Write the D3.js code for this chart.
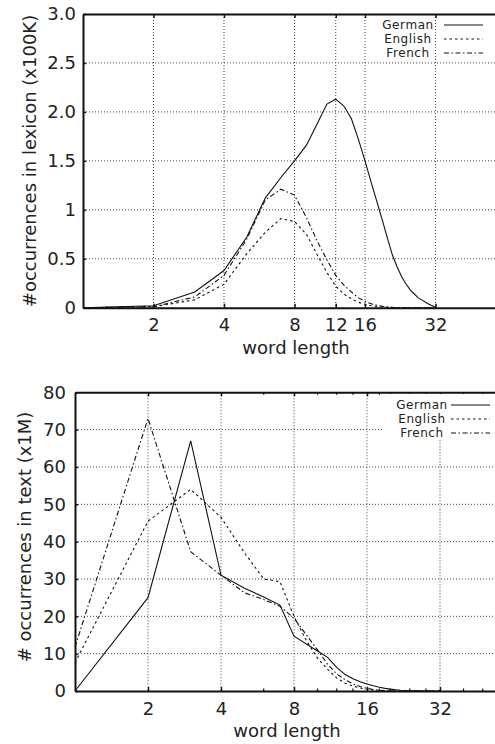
<!DOCTYPE html>
<html>
<head>
<meta charset="utf-8">
<title>Word length distributions</title>
<style>
  body { margin: 0; background: #fff; }
  svg text { font-family: "DejaVu Sans", sans-serif; fill: #222; }
  .tick text { font-size: 18px; }
  .axis .domain { stroke: #111; stroke-width: 2; }
  .axis .tick line { stroke: #111; stroke-width: 1.5; }
  .grid line { stroke: #444; stroke-width: 1; stroke-dasharray: 1,2; }
  .series { fill: none; stroke: #111; stroke-width: 1.1; }
  .legend text { font-size: 12px; letter-spacing: 0.6px; text-anchor: middle; }
</style>
</head>
<body>
<svg width="495" height="744"></svg>
<script src="https://d3js.org/d3.v7.min.js"></script>
<script>
// word lengths 1..32
var wordLength = d3.range(1, 33);

// lexicon counts (x100K)
var lexGerman  = [0, 0.02, 0.16, 0.38, 0.72, 1.12, 1.33, 1.5, 1.66, 1.88, 2.08, 2.13, 2.06, 1.93, 1.72, 1.5,
                  1.28, 1.08, 0.89, 0.7, 0.53, 0.41, 0.31, 0.24, 0.18, 0.14, 0.1, 0.08, 0.055, 0.035, 0.02, 0.005];
var lexEnglish = [0, 0.01, 0.08, 0.24, 0.55, 0.77, 0.91, 0.88, 0.75, 0.54, 0.36, 0.22, 0.14, 0.09, 0.055, 0.035,
                  0.02, 0.012, 0.007, 0.004, 0.002, 0.001, 0, 0, 0, 0, 0, 0, 0, 0, 0, 0];
var lexFrench  = [0, 0.01, 0.11, 0.33, 0.7, 1.1, 1.21, 1.15, 0.92, 0.68, 0.49, 0.33, 0.23, 0.16, 0.1, 0.065,
                  0.04, 0.025, 0.015, 0.008, 0.004, 0.002, 0.001, 0, 0, 0, 0, 0, 0, 0, 0, 0];

// text counts (x1M)
var txtGerman  = [0, 25, 67, 31, 27.5, 25.2, 23, 14.7, 12.6, 10.7, 9, 6.3, 4.4, 3.3, 2.5, 1.9,
                  1.4, 1.0, 0.7, 0.5, 0.35, 0.22, 0.14, 0.08, 0.05, 0.03, 0.015, 0.01, 0, 0, 0, 0];
var txtEnglish = [7.6, 45.5, 54, 46.5, 37, 30, 29.3, 20, 13.5, 8.8, 5.8, 3.5, 2.1, 1.3, 0.8, 0.45,
                  0.25, 0.12, 0.06, 0.03, 0.01, 0, 0, 0, 0, 0, 0, 0, 0, 0, 0, 0];
var txtFrench  = [11.8, 73, 37.3, 31, 26.3, 24.5, 22.7, 19.5, 15, 11, 7.2, 4.6, 3, 1.9, 1.2, 0.7,
                  0.4, 0.2, 0.1, 0.05, 0.02, 0, 0, 0, 0, 0, 0, 0, 0, 0, 0, 0];

var languages = ["German", "English", "French"];
var dashes = ["none", "2.5,3", "5,2.5,1.5,2.5"];

// ticks
var lexXTicks = [2, 4, 8, 12, 16, 32];
var lexYTicks = [0, 0.5, 1, 1.5, 2, 2.5, 3];
var lexYLabels = ["0", "0.5", "1", "1.5", "2.0", "2.5", "3.0"];
var txtXTicks = [2, 4, 8, 16, 32];
var txtXMinor = [6, 10, 12, 14, 18, 20, 24, 28, 40, 48];
var txtYTicks = [0, 10, 20, 30, 40, 50, 60, 70, 80];

var svg = d3.select("svg");

function panel(opt) {
  var x = d3.scaleLog().base(2).domain(opt.xDomain).range([opt.left, 495]);
  var y = d3.scaleLinear().domain(opt.yDomain).range([opt.bottom, opt.top]);
  var g = svg.append("g");

  // grid
  var grid = g.append("g").attr("class", "grid");
  grid.selectAll(".gx").data(opt.xTicks).enter().append("line")
      .attr("x1", function(d) { return x(d); }).attr("x2", function(d) { return x(d); })
      .attr("y1", opt.top).attr("y2", opt.bottom);
  grid.selectAll(".gy").data(opt.yTicks.slice(1, -1)).enter().append("line")
      .attr("x1", opt.left).attr("x2", 495)
      .attr("y1", function(d) { return y(d); }).attr("y2", function(d) { return y(d); });

  // series
  var series = [opt.german, opt.english, opt.french];
  var line = d3.line()
      .x(function(d, i) { return x(wordLength[i]); })
      .y(function(d) { return y(d); });
  series.forEach(function(s, k) {
    g.append("path").attr("class", "series")
      .attr("d", line(s))
      .style("stroke-dasharray", dashes[k]);
  });

  // axes
  var xb = d3.axisBottom(x).tickValues(opt.xTicks).tickFormat(d3.format("d"))
      .tickSizeInner(-4).tickSizeOuter(0).tickPadding(11);
  g.append("g").attr("class", "axis").attr("transform", "translate(0," + opt.bottom + ")").call(xb);
  var xt = d3.axisTop(x).tickValues(opt.xTicks).tickFormat("")
      .tickSizeInner(-4).tickSizeOuter(0);
  g.append("g").attr("class", "axis").attr("transform", "translate(0," + opt.top + ")").call(xt);
  if (opt.minor) {
    [[opt.bottom, -2.5], [opt.top, 2.5]].forEach(function(p) {
      g.append("g").selectAll("line").data(opt.minor).enter().append("line")
        .attr("x1", function(d) { return x(d); }).attr("x2", function(d) { return x(d); })
        .attr("y1", p[0]).attr("y2", p[0] + p[1])
        .attr("stroke", "#111").attr("stroke-width", 1.2);
    });
  }
  var ya = d3.axisLeft(y).tickValues(opt.yTicks)
      .tickFormat(function(d, i) { return opt.yLabels[i]; })
      .tickSizeInner(-3).tickSizeOuter(0).tickPadding(opt.yPad);
  g.append("g").attr("class", "axis").attr("transform", "translate(" + opt.left + ",0)").call(ya);

  // axis labels
  g.append("text").attr("x", opt.xLabelX).attr("y", opt.xLabelY)
    .attr("text-anchor", "middle").style("font-size", "18px").text("word length");
  g.append("text")
    .attr("transform", "translate(" + opt.yLabelX + "," + opt.yLabelY + ") rotate(-90)")
    .attr("text-anchor", "middle").style("font-size", "18px").text(opt.yLabel);

  // legend
  var lg = g.append("g").attr("class", "legend");
  if (opt.legendBox) {
    lg.append("rect").attr("x", opt.legendBox[0]).attr("y", opt.legendBox[1])
      .attr("width", opt.legendBox[2]).attr("height", opt.legendBox[3]).attr("fill", "#fff");
  }
  languages.forEach(function(name, k) {
    var base = opt.legendY + k * 14;
    lg.append("text").attr("x", opt.legendTextX).attr("y", base).text(name);
    lg.append("line").attr("x1", opt.legendLine[0]).attr("x2", opt.legendLine[1])
      .attr("y1", base - 4).attr("y2", base - 4)
      .attr("class", "series").style("stroke-dasharray", dashes[k]);
  });
}

panel({
  xDomain: [1, Math.pow(2, 412 / 70.5)], yDomain: [0, 3],
  left: 83, top: 14, bottom: 307.7,
  xTicks: lexXTicks, yTicks: lexYTicks, yLabels: lexYLabels, yPad: 7,
  german: lexGerman, english: lexEnglish, french: lexFrench,
  xLabelX: 296, xLabelY: 354, yLabelX: 36, yLabelY: 161,
  yLabel: "#occurrences in lexicon (x100K)",
  legendTextX: 408, legendY: 29, legendLine: [444, 483]
});

panel({
  xDomain: [1, Math.pow(2, 420 / 73)], yDomain: [0, 80],
  left: 75, top: 392.3, bottom: 691,
  xTicks: txtXTicks, yTicks: txtYTicks, yLabels: txtYTicks.map(String), yPad: 9,
  minor: txtXMinor,
  german: txtGerman, english: txtEnglish, french: txtFrench,
  xLabelX: 287, xLabelY: 737, yLabelX: 31, yLabelY: 537,
  yLabel: "# occurrences in text (x1M)",
  legendBox: [383, 394, 112, 46],
  legendTextX: 422, legendY: 409, legendLine: [451, 490]
});
</script>
</body>
</html>
